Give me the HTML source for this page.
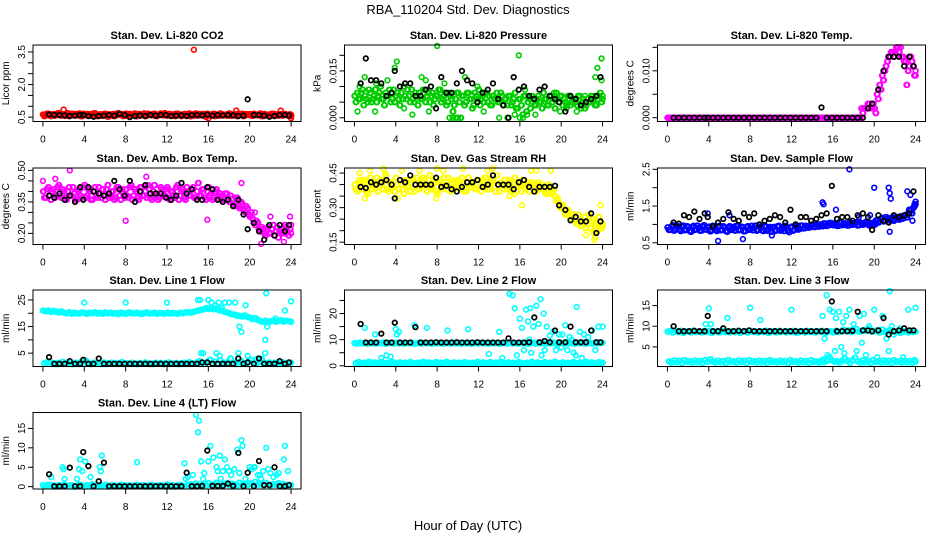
<!DOCTYPE html>
<html><head><meta charset="utf-8"><style>
html,body{margin:0;padding:0;background:#fff}
svg{display:block;font-family:"Liberation Sans",Arial,sans-serif}
</style></head><body>
<svg id="chart" width="936" height="540" viewBox="0 0 936 540">
<text x="468" y="14" text-anchor="middle" font-size="13">RBA_110204  Std. Dev. Diagnostics</text>
<text x="468" y="530" text-anchor="middle" font-size="13">Hour of Day (UTC)</text>
<g id="panels"></g>
</svg>
<script>
// ---- shared categories ----
const blackHours=[0.6,1.1,1.6,2.1,2.6,3.1,3.6,3.9,4.4,4.9,5.4,5.9,6.4,6.9,7.4,7.9,8.4,8.9,9.4,9.9,10.4,10.9,11.4,11.9,12.4,12.9,13.4,13.9,14.4,14.9,15.4,15.9,16.4,16.9,17.4,17.9,18.4,18.9,19.4,19.8,20.4,20.9,21.4,21.9,22.4,22.9,23.4,23.8];
const xTicks=[0,4,8,12,16,20,24];

// ---- CO2 ----
const co2Dense=[0.62,0.58,0.66,0.55,0.64,0.60,0.68,0.57,0.63,0.61,0.55,0.66,0.60,0.58,0.67,0.54,0.62,0.65,0.57,0.60,0.68,0.55,0.63,0.59,0.66,0.52,0.61,0.64,0.57,0.69,0.60,0.55,0.66,0.62,0.58,0.60,0.54,0.65,0.61,0.67,0.57,0.63,0.59,0.66,0.55,0.62,0.60,0.68,0.57,0.64,0.60,0.55,0.66,0.62,0.58,0.65,0.60,0.54,0.63,0.67,0.57,0.61,0.65,0.52,0.62,0.58,0.66,0.60,0.56,0.64,0.61,0.57,0.67,0.59,0.63,0.55,0.62,0.66,0.58,0.60,0.64,0.56,0.62,0.59,0.67,0.55,0.63,0.60,0.58,0.66,0.61,0.57,0.64,0.60,0.62,0.56,0.60];
const co2Dense2=[0.55,0.66,0.60,0.63,0.57,0.67,0.59,0.64,0.56,0.68,0.62,0.58,0.65,0.61,0.55,0.66,0.59,0.56,0.64,0.67,0.58,0.62,0.56,0.65,0.60,0.63,0.57,0.55,0.66,0.61,0.64,0.58,0.56,0.65,0.62,0.67,0.59,0.57,0.63,0.55,0.66,0.60,0.64,0.56,0.62,0.67,0.58,0.61,0.65,0.56,0.63,0.66,0.59,0.55,0.64,0.60,0.67,0.62,0.57,0.58,0.65,0.63,0.56,0.66,0.59,0.64,0.55,0.62,0.67,0.58,0.60,0.65,0.56,0.63,0.58,0.66,0.61,0.55,0.64,0.62,0.57,0.66,0.59,0.63,0.55,0.65,0.58,0.62,0.66,0.56,0.63,0.60,0.57,0.65,0.59,0.63,0.55];
const co2OutH=[2.0,14.6,18.7,23.0,24.0,16.0];
const co2OutV=[0.85,3.6,0.8,0.8,0.45,0.45];
const co2Black=[0.62,0.6,0.6,0.58,0.55,0.57,0.6,0.6,0.55,0.52,0.55,0.57,0.6,0.57,0.65,0.6,0.5,0.55,0.58,0.55,0.6,0.57,0.6,0.6,0.55,0.57,0.58,0.55,0.6,0.6,0.58,0.62,0.57,0.6,0.58,0.6,0.58,0.55,0.57,1.32,0.6,0.6,0.57,0.52,0.55,0.6,0.6,0.58];

// ---- Pressure ----
const prA=[0.007,0.008,0.006,0.009,0.007,0.005,0.008,0.006,0.009,0.007,0.010,0.006,0.008,0.007,0.005,0.009,0.007,0.006,0.008,0.010,0.006,0.007,0.009,0.005,0.007,0.008,0.006,0.009,0.007,0.005,0.008,0.006,0.007,0.009,0.006,0.008,0.005,0.007,0.002,0.006,0.008,0.000,0.007,0.005,0.008,0.006,0.004,0.007,0.009,0.006,0.005,0.008,0.007,0.004,0.006,0.008,0.005,0.007,0.006,0.004,0.007,0.005,0.008,0.003,0.006,0.001,0.007,0.005,0.003,0.006,0.004,0.007,0.005,0.008,0.006,0.004,0.007,0.006,0.008,0.005,0.007,0.006,0.004,0.007,0.005,0.006,0.004,0.007,0.005,0.003,0.006,0.005,0.007,0.004,0.006,0.008,0.006];
const prB=[0.005,0.006,0.008,0.004,0.006,0.009,0.005,0.007,0.005,0.008,0.006,0.004,0.007,0.009,0.006,0.005,0.008,0.004,0.006,0.007,0.009,0.005,0.006,0.008,0.004,0.006,0.009,0.005,0.008,0.007,0.004,0.007,0.009,0.005,0.007,0.004,0.008,0.006,0.004,0.008,0.005,0.007,0.004,0.008,0.006,0.003,0.008,0.006,0.004,0.007,0.008,0.005,0.004,0.007,0.006,0.005,0.008,0.004,0.006,0.007,0.004,0.006,0.003,0.006,0.004,0.007,0.002,0.006,0.007,0.004,0.006,0.005,0.003,0.006,0.004,0.007,0.005,0.003,0.006,0.007,0.004,0.005,0.007,0.004,0.006,0.005,0.007,0.003,0.006,0.004,0.005,0.007,0.006,0.004,0.007,0.005,0.007];
const prOutH=[0.5,1.0,2.1,3.2,4.1,3.9,5.6,6.5,6.9,8.0,8.7,9.5,10.7,11.9,13.3,14.8,15.9,16.0,16.5,19.3,19.9,21.5,22.3,23.3,23.5,23.9,23.9,0.3,2.0,4.8,7.2,10.0,12.5,14.0,17.5,20.5,9.2,9.8,15.5,16.3,16.7];
const prOutV=[0.010,0.013,0.011,0.012,0.018,0.016,0.001,0.013,0.012,0.023,0.011,0.000,0.013,0.010,0.007,0.000,0.020,0.000,0.009,0.008,0.002,0.002,0.007,0.013,0.016,0.019,0.012,0.002,0.002,0.003,0.002,0.000,0.002,0.000,0.001,0.003,0.000,0.000,0.001,0.000,0.001];
const prBlack=[0.011,0.019,0.012,0.012,0.011,0.007,0.008,0.015,0.010,0.011,0.011,0.007,0.007,0.009,0.010,0.003,0.013,0.008,0.008,0.011,0.015,0.012,0.011,0.005,0.008,0.009,0.011,0.006,0.004,0.000,0.013,0.009,0.010,0.007,0.006,0.009,0.010,0.007,0.006,0.005,0.002,0.007,0.006,0.004,0.005,0.006,0.007,0.013];

// ---- Li-820 Temp ----
const tmA=[0,0,0,0,0,0,0,0,0,0,0,0,0,0,0,0,0,0,0,0,0,0,0,0,0,0,0,0,0,0,0,0,0,0,0,0,0,0,0,0,0,0,0,0,0,0,0,0,0,0,0,0,0,0,0,0,0,0,0,0,0,0,0,0,0,0,0,0,0,0,0,0,0,0,0,0.002,0.002,0.002,0.003,0.002,0.002,0.005,0.007,0.009,0.010,0.012,0.013,0.014,0.014,0.015,0.015,0.013,0.012,0.010,0.013,0.011,0.009];
const tmB=[0,0,0,0,0,0,0,0,0,0,0,0,0,0,0,0,0,0,0,0,0,0,0,0,0,0,0,0,0,0,0,0,0,0,0,0,0,0,0,0,0,0,0,0,0,0,0,0,0,0,0,0,0,0,0,0,0,0,0,0,0,0,0,0,0,0,0,0,0,0,0,0,0,0,0,0.001,0.002,0.003,0.002,0.003,0.001,0.004,0.006,0.008,0.011,0.013,0.014,0.013,0.015,0.014,0.013,0.012,0.007,0.011,0.012,0.009,0.010];
const tmBlack=[0,0,0,0,0,0,0,0,0,0,0,0,0,0,0,0,0,0,0,0,0,0,0,0,0,0,0,0,0,0.0022,0,0,0,0,0,0,0,0,0.002,0.003,0.006,0.010,0.013,0.013,0.013,0.011,0.013,0.011];

// ---- Amb box temp ----
const abA=[0.40,0.37,0.42,0.36,0.41,0.38,0.43,0.37,0.40,0.36,0.42,0.38,0.39,0.36,0.41,0.37,0.43,0.38,0.40,0.36,0.42,0.37,0.39,0.41,0.36,0.43,0.38,0.40,0.37,0.42,0.36,0.39,0.41,0.37,0.43,0.38,0.40,0.36,0.42,0.38,0.37,0.41,0.36,0.43,0.39,0.37,0.41,0.38,0.42,0.36,0.40,0.37,0.43,0.38,0.41,0.36,0.40,0.38,0.42,0.37,0.44,0.38,0.41,0.36,0.42,0.39,0.37,0.41,0.38,0.38,0.36,0.39,0.35,0.36,0.33,0.37,0.32,0.34,0.30,0.32,0.28,0.27,0.24,0.25,0.21,0.22,0.19,0.23,0.20,0.24,0.21,0.18,0.22,0.20,0.23,0.19,0.24];
const abB=[0.37,0.41,0.38,0.40,0.37,0.42,0.38,0.41,0.37,0.40,0.38,0.42,0.36,0.40,0.38,0.42,0.37,0.41,0.36,0.40,0.38,0.42,0.37,0.38,0.41,0.37,0.40,0.36,0.42,0.38,0.41,0.37,0.38,0.42,0.36,0.41,0.37,0.42,0.38,0.40,0.43,0.37,0.40,0.38,0.36,0.42,0.38,0.41,0.37,0.40,0.38,0.42,0.36,0.40,0.37,0.42,0.38,0.41,0.37,0.40,0.38,0.41,0.37,0.40,0.38,0.36,0.40,0.37,0.39,0.36,0.39,0.37,0.38,0.34,0.37,0.33,0.35,0.31,0.33,0.29,0.30,0.25,0.26,0.22,0.23,0.20,0.22,0.20,0.22,0.19,0.23,0.21,0.20,0.24,0.21,0.22,0.20];
const abOutH=[2.6,8.0,15.9,10.0,0.0,1.2,21.1,22.0,23.3,19.2,20.5,23.9];
const abOutV=[0.50,0.26,0.265,0.47,0.45,0.46,0.15,0.28,0.16,0.44,0.30,0.28];
const abBlack=[0.38,0.37,0.39,0.36,0.38,0.35,0.42,0.36,0.42,0.40,0.39,0.38,0.39,0.45,0.41,0.38,0.45,0.35,0.40,0.43,0.39,0.39,0.39,0.37,0.36,0.38,0.44,0.39,0.41,0.36,0.36,0.42,0.41,0.36,0.35,0.36,0.33,0.36,0.29,0.22,0.25,0.21,0.17,0.24,0.19,0.24,0.21,0.24];

// ---- Gas stream RH ----
const rhA=[0.40,0.37,0.42,0.38,0.41,0.36,0.43,0.39,0.40,0.37,0.42,0.38,0.44,0.37,0.41,0.39,0.43,0.38,0.40,0.36,0.42,0.39,0.41,0.37,0.43,0.38,0.40,0.42,0.37,0.44,0.39,0.41,0.36,0.42,0.38,0.40,0.43,0.37,0.41,0.39,0.42,0.38,0.40,0.37,0.43,0.39,0.41,0.38,0.42,0.37,0.40,0.43,0.38,0.41,0.39,0.44,0.37,0.40,0.42,0.38,0.41,0.37,0.43,0.39,0.40,0.42,0.38,0.41,0.39,0.40,0.37,0.41,0.38,0.39,0.36,0.40,0.37,0.38,0.33,0.32,0.30,0.29,0.27,0.28,0.25,0.26,0.23,0.25,0.22,0.26,0.23,0.21,0.25,0.22,0.20,0.24,0.22];
const rhB=[0.38,0.41,0.39,0.42,0.37,0.40,0.38,0.41,0.43,0.39,0.40,0.42,0.38,0.41,0.39,0.37,0.40,0.42,0.38,0.41,0.39,0.37,0.42,0.40,0.38,0.41,0.43,0.39,0.40,0.38,0.42,0.37,0.41,0.39,0.43,0.38,0.40,0.42,0.38,0.41,0.39,0.43,0.37,0.41,0.39,0.40,0.38,0.42,0.39,0.41,0.43,0.38,0.40,0.42,0.37,0.40,0.41,0.38,0.39,0.42,0.38,0.40,0.39,0.41,0.37,0.39,0.40,0.37,0.41,0.38,0.40,0.38,0.40,0.37,0.38,0.36,0.37,0.35,0.34,0.30,0.31,0.27,0.29,0.25,0.27,0.24,0.27,0.22,0.24,0.21,0.27,0.24,0.19,0.23,0.26,0.21,0.23];
const rhOutH=[0.5,1.5,2.8,3.0,4.6,6.3,8.0,8.6,10.5,13.4,12.9,17.1,17.6,19.0,23.2,23.3,22.4,23.8,1.0,4.2,7.9,15.0,15.5,16.2];
const rhOutV=[0.45,0.46,0.47,0.45,0.46,0.46,0.47,0.46,0.47,0.47,0.46,0.46,0.46,0.46,0.16,0.17,0.18,0.31,0.34,0.34,0.34,0.35,0.36,0.31];
const rhBlack=[0.39,0.385,0.41,0.40,0.41,0.42,0.40,0.34,0.42,0.41,0.44,0.40,0.40,0.40,0.40,0.43,0.39,0.395,0.38,0.37,0.39,0.41,0.41,0.42,0.39,0.40,0.44,0.40,0.40,0.40,0.38,0.41,0.42,0.39,0.37,0.39,0.39,0.39,0.395,0.31,0.29,0.245,0.26,0.24,0.24,0.275,0.19,0.24];

// ---- Sample flow ----
const sfA=[0.92,0.85,0.98,0.88,0.95,0.82,0.97,0.86,0.93,0.80,0.96,0.87,0.91,0.83,0.98,0.86,0.94,0.84,0.90,0.82,0.96,0.85,0.92,0.80,0.95,0.87,0.83,0.97,0.86,0.92,0.82,0.95,0.88,0.84,0.97,0.85,0.91,0.82,0.94,0.87,0.80,0.93,0.84,0.96,0.86,0.82,0.90,0.79,0.94,0.85,0.92,0.88,0.97,0.90,0.95,0.92,0.99,0.93,0.97,1.00,0.95,1.02,0.97,1.04,0.98,1.01,0.96,1.05,0.99,1.02,0.97,1.04,1.00,1.06,0.98,1.03,1.00,1.05,0.97,1.02,0.99,1.12,1.08,1.18,1.10,1.15,1.12,1.20,1.14,1.18,1.22,1.16,1.25,1.30,1.38,1.45,1.55];
const sfB=[0.85,0.94,0.83,0.96,0.86,0.93,0.84,0.95,0.82,0.92,0.85,0.97,0.83,0.94,0.86,0.92,0.81,0.96,0.85,0.93,0.84,0.95,0.82,0.91,0.85,0.93,0.96,0.84,0.94,0.81,0.93,0.85,0.96,0.92,0.83,0.94,0.84,0.96,0.83,0.93,0.91,0.82,0.95,0.83,0.92,0.96,0.84,0.92,0.83,0.95,0.86,0.97,0.89,0.96,0.91,0.99,0.93,1.00,0.94,0.98,1.03,0.96,1.04,0.99,1.03,0.96,1.06,0.98,1.03,0.97,1.05,0.99,1.04,0.97,1.05,0.99,1.06,1.00,1.04,0.98,1.10,1.05,1.15,1.08,1.20,1.11,1.17,1.10,1.19,1.13,1.15,1.24,1.19,1.40,1.30,1.50,1.62];
const sfOutH=[4.9,7.3,15.0,15.1,17.6,20.0,21.4,21.5,21.6,21.5,23.2,23.5,23.9,16.3,23.7,3.9,6.0,10.1,18.5,19.6];
const sfOutV=[0.55,0.6,1.6,1.55,2.5,2.0,2.0,1.85,1.7,0.8,1.9,1.8,1.55,1.4,1.1,1.3,1.25,0.7,1.2,1.25];
const sfBlack=[1.05,1.02,1.25,1.2,1.35,1.15,1.3,1.2,0.95,1.05,1.15,1.33,1.15,1.1,1.3,1.2,1.3,1.0,1.1,1.15,1.25,1.2,1.05,1.4,1.0,1.2,1.2,1.1,1.15,1.25,1.3,2.05,1.15,1.2,1.2,1.1,1.25,1.3,1.2,0.85,1.25,1.1,1.05,1.25,1.2,1.25,1.3,1.9];

// ---- Line 1 flow ----
const l1Up=[21,20.8,21,20.5,20.9,20.6,20.3,20.7,20.2,20.0,20.4,19.8,20.2,20.0,19.9,20.3,20.1,19.8,20.2,20.0,20.4,19.9,20.1,19.8,20.3,20.0,20.2,19.9,20.1,19.7,20.2,20.0,19.8,20.3,20.1,19.9,20.2,20.0,19.7,20.1,20.3,19.9,20.0,20.2,19.8,20.1,20.0,19.8,20.2,19.9,20.1,20.0,19.8,20.2,20.0,20.3,20.4,20.2,20.5,20.8,21.0,21.3,21.5,21.8,21.6,22.0,21.5,21.8,21.2,21.0,20.6,20.3,20.0,19.6,19.5,19.2,19.0,18.8,19.2,18.6,18.4,17.8,18.2,17.5,17.0,16.8,17.2,16.6,17.0,17.3,16.8,17.1,17.4,16.9,17.2,17.0,16.8];
const l1Lo=[1.2,1.6,1.0,1.4,0.9,1.3,1.1,1.7,1.0,1.5,1.2,0.9,1.4,1.1,1.6,1.0,2.2,1.2,0.9,1.4,1.1,1.3,1.0,1.5,0.9,1.2,1.4,1.0,1.3,1.1,1.6,0.9,1.2,1.0,1.4,1.1,0.9,1.3,1.0,1.5,1.2,0.9,1.1,1.4,1.0,1.3,0.9,1.2,1.5,1.0,1.1,1.3,0.9,1.2,1.4,1.0,1.6,1.2,1.1,1.5,2.0,1.3,1.0,1.6,2.5,1.2,1.8,1.0,2.2,1.4,1.1,1.7,3.0,1.2,1.5,1.0,2.0,1.3,1.1,1.8,2.5,1.2,1.0,1.6,2.8,1.3,1.0,1.5,1.1,1.4,0.9,1.2,1.6,1.0,1.3,1.1,1.4];
const l1OutH=[4.0,8.0,12.0,15.0,15.2,15.5,15.8,16.0,16.3,16.7,17.0,17.3,17.6,18.0,18.6,18.8,19.0,19.2,19.6,21.5,21.6,21.7,22.5,23.4,24.0,15.3,18.9,21.5,16.8,17.1,19.8,20.7];
const l1OutV=[24,24,24,25,25,5,22,25,24,23,24,22,24,24,24,19,15,13,23,10,27.5,15,18,21,24.5,5,5,5,5,4,4,3];
const l1Black=[3.5,1,1,1,2,1,1,2.5,1,1,3,1,1,1,1,1,1,1,1,1,1,1,1,1,1,1,1,1,1,1,1.5,1.5,1,1,1,1,1,3,1,1.5,1,3,1,1,1,2,1,1.5];

// ---- Line 2 flow ----
const l2Up=[8.7,8.5,8.9,8.6,8.8,8.4,8.9,8.7,8.5,8.8,8.6,8.9,8.4,8.7,8.8,8.5,8.9,8.6,8.7,8.5,8.8,8.6,8.9,8.4,8.7,8.8,8.5,8.9,8.6,8.7,8.5,8.8,8.6,8.9,8.4,8.7,8.8,8.5,8.9,8.6,8.7,8.5,8.8,8.6,8.9,8.4,8.7,8.8,8.5,8.9,8.6,8.7,8.5,8.8,8.6,8.9,8.4,8.7,8.8,8.5,8.9,8.6,8.7,8.5,8.8,8.6,8.9,8.4,8.7,8.8,8.5,8.9,8.6,8.7,8.5,8.8,8.6,8.9,8.4,8.7,8.8,8.5,8.9,8.6,8.7,8.5,8.8,8.6,8.9,8.4,8.7,8.8,8.5,8.9,8.6,8.7,8.8];
const l2Lo=[1.0,1.4,0.8,1.2,1.0,1.5,0.9,1.3,1.1,0.8,1.4,1.0,1.2,0.9,1.5,1.1,0.8,1.3,1.0,1.2,0.9,1.4,1.1,0.8,1.2,1.0,1.5,0.9,1.3,1.1,0.8,1.4,1.0,1.2,0.9,1.5,1.1,0.8,1.3,1.0,1.2,0.9,1.4,1.1,0.8,1.2,1.0,1.5,0.9,1.3,1.1,0.8,1.4,1.0,1.2,0.9,1.5,1.1,0.8,1.3,1.0,1.2,0.9,1.4,1.1,0.8,1.2,1.0,1.5,0.9,1.3,1.1,0.8,1.4,1.0,1.2,0.9,1.5,1.1,0.8,1.3,1.0,1.2,0.9,1.4,1.1,0.8,1.2,1.0,1.5,0.9,1.3,1.1,0.8,1.4,1.0,1.2];
const l2OutH=[1.0,2.0,3.1,3.5,4.0,4.3,5.8,7.0,9.0,11.0,13.0,14.0,14.3,15.0,15.3,15.5,16.0,16.2,16.6,16.8,17.0,17.3,17.6,17.8,18.0,18.3,18.6,18.9,19.2,19.5,19.8,20.1,20.4,20.8,21.2,21.5,21.8,22.2,22.6,23.0,23.3,23.6,24.0,15.7,16.4,17.1,18.1,19.0,20.0,20.6,21.4,22.0,2.6,4.1,16.9,18.4,19.7,21.0];
const l2OutV=[14.5,12,4,3.5,14,13,15.5,14.5,13.5,14,4.5,13,3,27.5,27,22,18,14.5,21.5,17,22,15,23,16,25.5,20,15,11.5,13,6,12,12,15.5,11,5,22.5,13,12,11,13.5,6,15,15,4,6,5,4,9,7,6,4,3,3,12,10,6,8,10];
const l2Black=[16,8.9,8.9,8.9,12.3,8.9,8.9,16.5,8.9,8.9,8.9,14.8,8.9,8.9,8.9,9,8.9,8.9,8.9,9,8.9,8.9,8.9,9,8.9,8.9,8.9,8.9,8.9,10.5,8.9,8.9,8.9,9,18.5,9,9.5,9,13.5,9,9,15,9,9,9,13.5,9,9];

// ---- Line 3 flow ----
const l3Up=[8.7,8.9,8.5,8.8,8.6,8.9,8.4,8.7,8.8,8.5,8.9,8.6,8.7,8.5,8.8,8.6,8.9,8.4,8.7,8.8,8.5,8.9,8.6,8.7,8.5,8.8,8.6,8.9,8.4,8.7,8.8,8.5,8.9,8.6,8.7,8.5,8.8,8.6,8.9,8.4,8.7,8.8,8.5,8.9,8.6,8.7,8.5,8.8,8.6,8.9,8.4,8.7,8.8,8.5,8.9,8.6,8.7,8.5,8.8,8.6,8.9,8.4,8.7,8.8,8.5,8.9,8.6,8.7,9.2,8.8,9.0,8.6,8.9,9.3,8.7,8.8,9.1,8.9,9.4,8.7,8.8,9.0,8.5,9.2,8.6,8.7,9.1,8.8,8.6,8.9,8.4,8.7,8.8,8.5,8.9,8.6,8.7];
const l3Lo=[1.5,1.2,1.7,1.3,1.6,1.1,1.8,1.4,1.5,1.2,1.7,1.3,1.6,1.1,1.8,1.4,2.0,1.5,1.2,1.7,1.3,1.6,1.1,1.8,1.4,1.5,1.2,1.7,1.3,1.6,1.1,1.8,1.4,1.5,1.2,1.7,1.3,1.6,1.1,1.8,1.4,1.5,1.2,1.7,1.3,1.6,1.1,1.8,1.4,1.5,1.2,1.7,1.3,1.6,1.1,1.8,1.4,1.5,1.2,1.7,1.3,1.6,2.5,1.8,1.4,1.5,1.2,1.7,2.2,1.6,1.1,1.8,2.4,1.5,1.2,1.7,1.3,1.6,1.1,1.8,1.4,1.5,1.2,1.7,1.3,1.6,1.1,1.8,1.4,1.5,1.2,1.7,1.3,1.6,1.1,1.8,1.4];
const l3OutH=[3.7,4.0,4.2,5.8,8.0,9.0,12.0,15.0,15.2,15.4,15.7,16.0,16.3,16.6,17.0,17.3,17.6,18.0,18.6,18.8,19.0,19.5,20.0,20.8,21.2,21.5,21.7,22.5,23.3,24.0,15.5,16.2,17.1,18.3,19.2,20.3,21.4,22.8,15.1,16.8,17.8,21.9];
const l3OutV=[10.5,14.3,10.5,12,14.5,11.5,14,12.5,7,17.5,14,13.5,12,13.5,11,12.5,14,10.5,12.5,6,13,10,14,12.5,7,18.5,10,9.5,14,14.5,3,4,3.5,4,3,2.5,4,2.5,2,5,9,8];
const l3Black=[10,8.8,8.8,8.8,8.9,8.8,8.8,12.5,8.8,8.8,9.5,8.8,8.8,8.9,8.8,9,8.8,8.8,8.8,8.8,8.8,8.8,8.8,8.8,8.8,8.8,8.8,8.8,8.8,8.8,8.8,16,8.8,8.8,8.8,8.9,13.5,9,9,8.8,9,12,8,8.8,9,9.5,9,9];

// ---- Line 4 flow ----
const l4Dense=[0.4,0.1,0.5,0.2,0.3,0.0,0.4,0.2,0.5,0.1,0.3,0.4,0.0,0.2,0.5,0.3,0.1,0.4,0.2,0.6,0.3,0.1,0.4,0.2,0.5,0.0,0.3,0.4,0.1,0.2,0.5,0.3,0.0,0.4,0.2,0.1,0.5,0.3,0.2,0.4,0.0,0.3,0.5,0.1,0.2,0.4,0.3,0.1,0.6,0.2,0.4,0.0,0.3,0.5,0.2,0.1,0.4,0.6,0.3,0.8,0.2,0.5,0.7,0.3,0.9,0.4,0.6,1.0,0.3,0.7,0.5,0.9,0.4,0.8,0.6,0.3,1.0,0.5,0.7,0.4,0.9,0.6,1.2,0.5,0.8,0.4,1.0,0.6,0.3,0.7,0.5,0.9,0.4,0.6,0.3,0.5,0.4];
const l4OutH=[1.9,2.1,2.0,3.3,3.5,3.6,3.8,4.1,4.6,5.5,5.6,5.7,9.1,13.7,13.8,14.0,14.8,15.0,15.1,15.3,15.6,16.0,16.2,16.5,16.8,17.1,17.4,17.6,17.8,18.0,18.5,18.8,19.2,19.3,19.6,20.0,20.2,20.5,20.8,21.0,21.3,21.6,21.8,22.0,22.3,22.6,23.3,23.4,23.7,14.5,15.5,16.9,17.2,18.2,19.0,20.4,21.1,22.8,0.8];
const l4OutV=[5,2,4.5,2,4.5,7,4,6.5,2.5,5,4,8,6.3,6,2,2.5,18.5,14,17,6.5,3.5,6.5,10.5,7.5,5,8,4,7,5,4,4.5,9.5,12,10.5,2,5,4.5,5,3,3,4,10,4.5,3.5,2.5,3,7,10.5,4,3,2,4,2,3,3.5,5,2,3.5,2.5];
const l4Black=[3.2,0.1,0.1,0.1,4.9,0.1,0.1,8.9,5.3,0.1,1.4,6.2,0.1,0.1,0.1,0.1,0.1,0.1,0.1,0.1,0.1,0.1,0.1,0.1,0.1,0.1,0.1,3.6,0.1,0.1,0.2,9.3,0.2,0.2,0.2,0.8,0.2,8.7,0.1,3.6,0.1,6.6,0.4,0.4,5.0,0.1,0.1,0.4];

// ---- panel definitions ----
const panels=[
 {name:"co2",title:"Stan. Dev. Li-820 CO2",ylab:"Licor ppm",col:0,row:0,ymin:0.30,ymax:3.82,ticks:[0.5,1,1.5,2,2.5,3,3.5],labels:[0.5,2.0,3.5],fmt:1,color:"#ff0000",dense:[co2Dense,co2Dense2],outH:co2OutH,outV:co2OutV,black:co2Black},
 {name:"pressure",title:"Stan. Dev. Li-820 Pressure",ylab:"kPa",col:1,row:0,ymin:-0.0012,ymax:0.0233,ticks:[0,0.005,0.01,0.015,0.02],labels:[0,0.015],fmt:3,color:"#00cc00",dense:[prA,prB],outH:prOutH,outV:prOutV,black:prBlack},
 {name:"li820-temp",title:"Stan. Dev. Li-820 Temp.",ylab:"degrees C",col:2,row:0,ymin:-0.0008,ymax:0.0155,ticks:[0,0.005,0.01,0.015],labels:[0,0.01],fmt:3,color:"#ff00ff",dense:[tmA,tmB],outH:[],outV:[],black:tmBlack},
 {name:"amb-box-temp",title:"Stan. Dev. Amb. Box Temp.",ylab:"degrees C",col:0,row:1,ymin:0.147,ymax:0.5115,ticks:[0.2,0.25,0.3,0.35,0.4,0.45,0.5],labels:[0.2,0.35,0.5],fmt:2,color:"#ff00ff",dense:[abA,abB],outH:abOutH,outV:abOutV,black:abBlack},
 {name:"gas-rh",title:"Stan. Dev. Gas Stream RH",ylab:"percent",col:1,row:1,ymin:0.14,ymax:0.472,ticks:[0.15,0.2,0.25,0.3,0.35,0.4,0.45],labels:[0.15,0.30,0.45],fmt:2,color:"#ffff00",dense:[rhA,rhB],outH:rhOutH,outV:rhOutV,black:rhBlack},
 {name:"sample-flow",title:"Stan. Dev. Sample Flow",ylab:"ml/min",col:2,row:1,ymin:0.453,ymax:2.536,ticks:[0.5,1,1.5,2,2.5],labels:[0.5,1.5,2.5],fmt:1,color:"#0000ff",dense:[sfA,sfB],outH:sfOutH,outV:sfOutV,black:sfBlack},
 {name:"line1-flow",title:"Stan. Dev. Line 1 Flow",ylab:"ml/min",col:0,row:2,ymin:-0.02,ymax:28.75,ticks:[5,10,15,20,25],labels:[5,15,25],fmt:0,color:"#00ffff",dense:[l1Up,l1Lo],outH:l1OutH,outV:l1OutV,black:l1Black},
 {name:"line2-flow",title:"Stan. Dev. Line 2 Flow",ylab:"ml/min",col:1,row:2,ymin:-0.27,ymax:29.0,ticks:[0,5,10,15,20,25],labels:[0,10,20],fmt:0,color:"#00ffff",dense:[l2Up,l2Lo],outH:l2OutH,outV:l2OutV,black:l2Black},
 {name:"line3-flow",title:"Stan. Dev. Line 3 Flow",ylab:"ml/min",col:2,row:2,ymin:0.26,ymax:18.77,ticks:[5,10,15],labels:[5,10,15],fmt:0,color:"#00ffff",dense:[l3Up,l3Lo],outH:l3OutH,outV:l3OutV,black:l3Black},
 {name:"line4-flow",title:"Stan. Dev. Line 4 (LT) Flow",ylab:"ml/min",col:0,row:3,ymin:-0.6,ymax:19.1,ticks:[0,5,10,15],labels:[0,5,10,15],fmt:0,color:"#00ffff",dense:[l4Dense],outH:l4OutH,outV:l4OutV,black:l4Black}
];

const NS="http://www.w3.org/2000/svg";
const colLeft=[33,344.5,657.5], rowTop=[45,168,290,412.5], BW=268, BH=76.5;
const XMIN=-0.96, XMAX=24.96;
function mk(tag,attrs,parent){const e=document.createElementNS(NS,tag);for(const k in attrs)e.setAttribute(k,attrs[k]);parent.appendChild(e);return e;}
const root=document.getElementById('panels');

panels.forEach(p=>{
  const L=colLeft[p.col], T=rowTop[p.row];
  const xs=h=>L+(h-XMIN)/(XMAX-XMIN)*BW;
  const ys=v=>T+(p.ymax-v)/(p.ymax-p.ymin)*BH;
  const g=mk('g',{},root);
  
  
  const t=mk('text',{x:L+BW/2,y:T-6,'text-anchor':'middle','font-size':11,'font-weight':'bold'},g);
  t.textContent=p.title;
  
  
  const yl=mk('text',{x:0,y:0,'text-anchor':'middle','font-size':10,transform:`translate(${L-24},${T+BH/2}) rotate(-90)`},g);
  yl.textContent=p.ylab;
  
  
  const pts=mk('g',{fill:'none','stroke-width':1.6},g);
  
  
  const jit=[0,0.07];
  p.dense.forEach((arr,k)=>{
    const n=arr.length;
    jit.forEach(j=>{
      arr.forEach((v,i)=>{
        const h=i*24/(n-1)+(k%2?0.12:0)+j;
        const c=mk('circle',{cx:xs(Math.min(h,24)),cy:ys(v),r:2.4,stroke:p.color},pts);
        
        
      });
    });
  });
  p.outH.forEach((h,i)=>{
    const c=mk('circle',{cx:xs(h),cy:ys(p.outV[i]),r:2.4,stroke:p.color},pts);
    
    
  });
  p.black.forEach((v,i)=>{
    const c=mk('circle',{cx:xs(blackHours[i]),cy:ys(v),r:2.3,stroke:'#000','stroke-width':1.7},pts);
    
    
  });
  const box=mk('rect',{x:L,y:T,width:BW,height:BH,fill:'none',stroke:'#000','stroke-width':1},g);
  
  
  const xa=mk('g',{'font-size':10,'text-anchor':'middle'},g);
  
  
  xTicks.forEach(v=>{
    mk('line',{x1:xs(v),x2:xs(v),y1:T+BH,y2:T+BH+5,stroke:'#000'},xa);
    const tl=mk('text',{x:xs(v),y:T+BH+21},xa);
    tl.textContent=v;
  });
  const ya=mk('g',{'font-size':10,'text-anchor':'middle'},g);
  
  
  p.ticks.forEach(v=>{mk('line',{x1:L-5,x2:L,y1:ys(v),y2:ys(v),stroke:'#000'},ya);});
  p.labels.forEach(v=>{
    const tl=mk('text',{x:0,y:0,transform:`translate(${L-8},${ys(v)}) rotate(-90)`},ya);
    tl.textContent=v.toFixed(p.fmt);
  });
});
</script>
</body></html>
